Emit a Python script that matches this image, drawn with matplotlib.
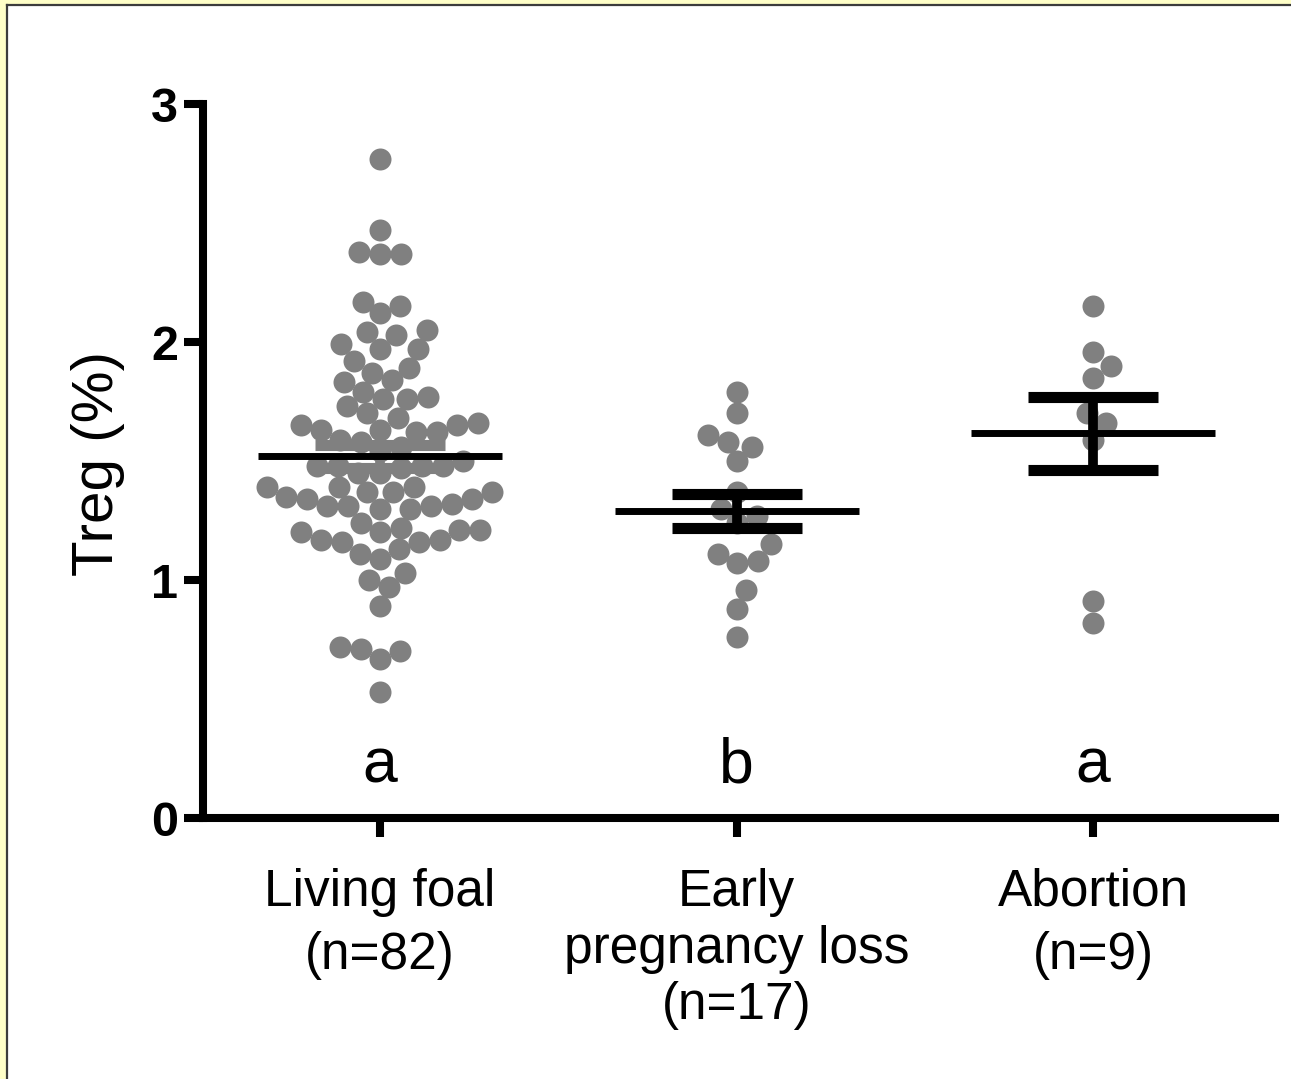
import matplotlib.pyplot as plt
import matplotlib        as mpl
import numpy             as np
from matplotlib.patches  import Rectangle
from matplotlib.lines    import Line2D

# Treg (%) per mare
living_foal = [2.77, 2.47, 2.37, 2.37, 2.38, 2.17, 2.12, 2.15, 2.05, 2.03,
               1.97, 1.97, 1.99, 2.04, 1.92, 1.87, 1.83, 1.84, 1.89, 1.77,
               1.76, 1.76, 1.79, 1.70, 1.68, 1.73, 1.66, 1.65, 1.63, 1.62,
               1.58, 1.56, 1.59, 1.62, 1.63, 1.65, 1.48, 1.48, 1.48, 1.45,
               1.45, 1.47, 1.48, 1.50, 1.39, 1.39, 1.39, 1.37, 1.37, 1.34,
               1.32, 1.31, 1.30, 1.30, 1.31, 1.31, 1.34, 1.35, 1.37, 1.21,
               1.20, 1.17, 1.16, 1.22, 1.24, 1.21, 1.11, 1.09, 1.13, 1.16,
               1.17, 1.20, 1.00, 0.97, 1.03, 0.89, 0.72, 0.70, 0.67, 0.71,
               0.53, 1.54]
early_loss = [1.79, 1.70, 1.58, 1.56, 1.61, 1.50, 1.37, 1.30, 1.27, 1.24,
              1.15, 1.11, 1.07, 1.08, 0.96, 0.88, 0.76]
abortion = [2.15, 1.96, 1.90, 1.85, 1.66, 1.70, 1.59, 0.91, 0.82]

groups = [living_foal, early_loss, abortion]
group_labels = ['Living foal\n(n=82)', 'Early\npregnancy loss\n(n=17)', 'Abortion\n(n=9)']
sig_letters = ['a', 'b', 'a']
y_ticks = [0, 1, 2, 3]

W, H = 1291, 1079
dot_px = 22
dot_color = '#808080'
bar_colors = ['#808080', 'black', 'black']

plt.rcParams['font.family'] = ['Liberation Sans', 'DejaVu Sans']


def swarm(ax, xc, vals, diam):
    # simple beeswarm in pixel space, closest free spot to the centre
    pts = ax.transData.transform(np.column_stack([np.full(len(vals), xc), vals]))
    order = np.argsort(vals)
    placed = []
    xs = np.zeros(len(vals))
    for i in order:
        px, py = pts[i]
        best = None
        for k in range(0, 600):
            for s in ([0] if k == 0 else [k, -k]):
                cx = px + s * 0.5
                if all((cx - qx)**2 + (py - qy)**2 >= diam**2 for qx, qy in placed):
                    best = cx
                    break
            if best is not None:
                break
        placed.append((best, py))
        xs[i] = best
    back = ax.transData.inverted().transform(np.column_stack([xs, pts[:, 1]]))
    return back[:, 0]


fig = plt.figure(figsize=(W/100, H/100), dpi=100, facecolor='#FFFFC8')

# screenshot frame: white panel with a dark edge on top and left
fig.patches.append(Rectangle((7/W, -0.1), 2, (H-5)/H + 0.1, transform=fig.transFigure,
                             facecolor='white', edgecolor='none', zorder=-10))
fig.lines.append(Line2D([6.5/W, 6.5/W], [0, (H-4.5)/H], transform=fig.transFigure,
                        color='#3c3c3c', lw=1.6, zorder=-5))
fig.lines.append(Line2D([6.5/W, 1.01], [(H-4.5)/H, (H-4.5)/H], transform=fig.transFigure,
                        color='#3c3c3c', lw=1.6, zorder=-5))

ax = fig.add_axes([203/W, (H-818)/H, (1275-203)/W, (818-104)/H])
ax.set_facecolor('none')
ax.set_xlim(-0.497, 2.51)
ax.set_ylim(0, 3)

for g, vals in enumerate(groups):
    vals = np.array(vals)
    xs = swarm(ax, g, vals, dot_px * 0.95)
    ax.scatter(xs, vals, s=(dot_px*0.72)**2, color=dot_color, linewidths=0, zorder=2)

    mean = vals.mean()
    sem = vals.std(ddof=1) / np.sqrt(len(vals))
    ax.plot([g, g], [mean - sem, mean + sem], color=bar_colors[g], lw=7, solid_capstyle='butt', zorder=3)
    for yy in (mean - sem, mean + sem):
        ax.plot([g - 0.182, g + 0.182], [yy, yy], color=bar_colors[g], lw=8, solid_capstyle='butt', zorder=3)
    ax.plot([g - 0.342, g + 0.342], [mean, mean], color='black', lw=5, solid_capstyle='butt', zorder=4)

    ax.text(g, 0.15, sig_letters[g], ha='center', va='baseline', fontsize=45)

for s in ['top', 'right']:
    ax.spines[s].set_visible(False)
for s in ['left', 'bottom']:
    ax.spines[s].set_linewidth(5.8)
    ax.spines[s].set_capstyle('projecting')

ax.set_yticks(y_ticks)
ax.set_yticklabels([str(t) for t in y_ticks], fontsize=35, fontweight='bold')
ax.set_xticks(range(len(groups)))
ax.set_xticklabels(group_labels, fontsize=37, va='top')
for lbl in ax.get_xticklabels():
    lbl.set_linespacing(1.2 if lbl.get_text().count('\n') > 1 else 1.38)
ax.tick_params(axis='both', direction='out', length=14, width=5.8, color='black')
ax.tick_params(axis='y', pad=4)
ax.tick_params(axis='x', pad=22)

ax.text(-0.098, 0.496, 'Treg (%)', transform=ax.transAxes, rotation=90,
        ha='center', va='center', fontsize=42)

plt.savefig('out.png', dpi=100, facecolor=fig.get_facecolor())
